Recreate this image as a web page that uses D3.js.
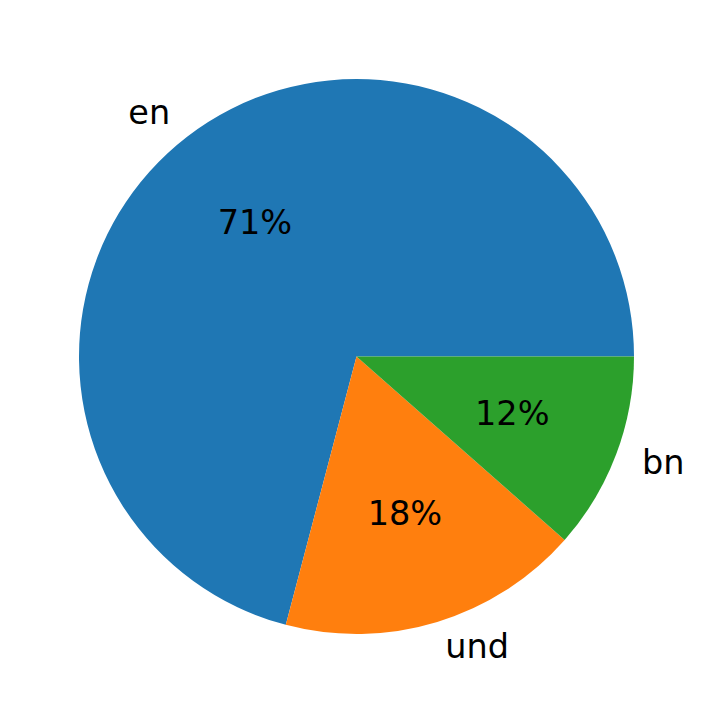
<!DOCTYPE html>
<html>
<head>
<meta charset="utf-8">
<script src="https://cdn.jsdelivr.net/npm/d3@7"></script>
<style>
html,body{margin:0;padding:0;background:#fff;}
svg{display:block;}
text{font-family:"DejaVu Sans",sans-serif;}
</style>
</head>
<body>
<script>
const categories = ["en", "und", "bn"];
const values = [70.9, 17.6, 11.5];
const colors = ["#1f77b4", "#ff7f0e", "#2ca02c"];

const W = 712, H = 713;
const cx = 356.5, cy = 356.5, R = 277.5;
const fontSize = 33.5;

const svg = d3.select("body").append("svg").attr("width", W).attr("height", H);
const g = svg.append("g").attr("transform", `translate(${cx},${cy})`);

const total = d3.sum(values);
const data = categories.map((c, i) => ({cat: c, value: values[i], color: colors[i]}));

// matplotlib: start at 3 o'clock, counterclockwise
const pie = d3.pie().value(d => d.value).sort(null)
  .startAngle(Math.PI / 2).endAngle(Math.PI / 2 - 2 * Math.PI);
const arcs = pie(data);
const arc = d3.arc().innerRadius(0).outerRadius(R);

g.selectAll("path").data(arcs).join("path")
  .attr("d", arc)
  .attr("fill", d => d.data.color);

function pos(d, r) {
  const a = (d.startAngle + d.endAngle) / 2;
  return [r * Math.sin(a), -r * Math.cos(a)];
}

g.selectAll("text.lab").data(arcs).join("text")
  .attr("class", "lab")
  .attr("x", d => pos(d, 1.1 * R)[0])
  .attr("y", d => pos(d, 1.1 * R)[1])
  .attr("dy", "0.28em")
  .attr("text-anchor", d => pos(d, 1)[0] > 0 ? "start" : "end")
  .attr("font-size", fontSize)
  .attr("fill", "#000")
  .text(d => d.data.cat);

g.selectAll("text.pct").data(arcs).join("text")
  .attr("class", "pct")
  .attr("x", d => pos(d, 0.6 * R)[0])
  .attr("y", d => pos(d, 0.6 * R)[1])
  .attr("dy", "0.28em")
  .attr("text-anchor", "middle")
  .attr("font-size", fontSize)
  .attr("fill", "#000")
  .text(d => Math.round(d.data.value / total * 100) + "%");
</script>
</body>
</html>
